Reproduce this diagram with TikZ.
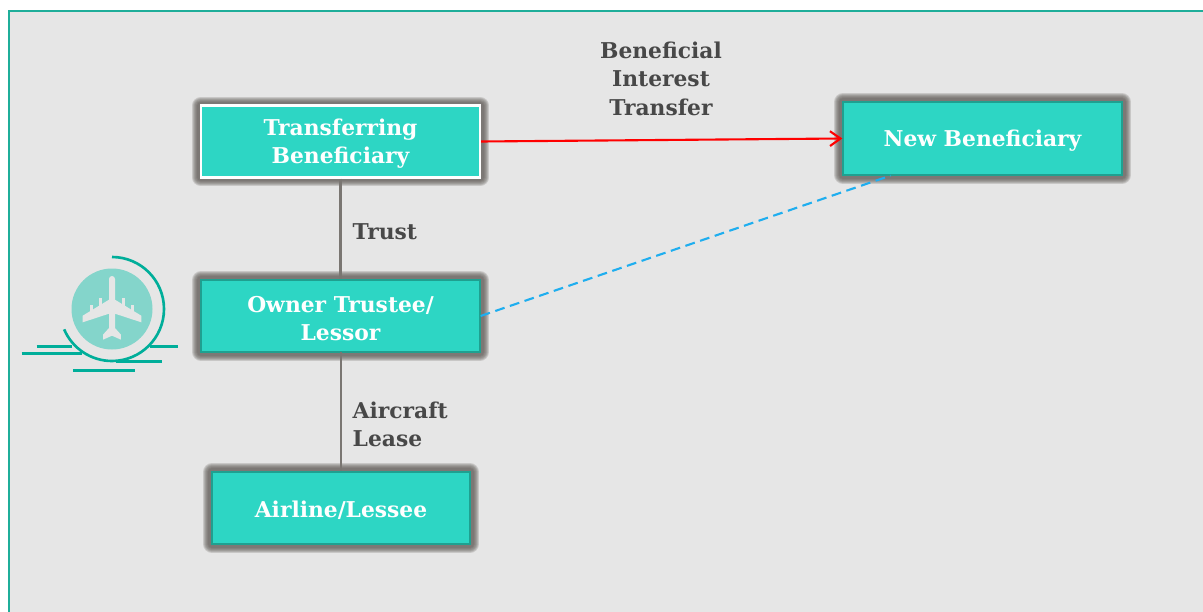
\documentclass[tikz,border=0pt]{standalone}
\usepackage{fontspec}
\usetikzlibrary{arrows.meta}
\setmainfont{DejaVu Serif}
\definecolor{panelgray}{HTML}{E6E6E6}
\definecolor{frameteal}{HTML}{1FAE9A}
\definecolor{boxteal}{HTML}{2DD6C4}
\definecolor{boxedge}{HTML}{1FA090}
\definecolor{glowgray}{HTML}{5F5A56}
\definecolor{labelgray}{HTML}{484848}
\definecolor{iconteal}{HTML}{00AE9A}
\definecolor{icondisc}{HTML}{84D5CB}
\definecolor{dashblue}{HTML}{1FAEEF}
\definecolor{linkgray}{HTML}{7A7672}
\newcommand{\toppad}{\rule{0pt}{6pt}}
\tikzset{
	glow/.style={preaction={draw=glowgray, line width=#1, line join=round, opacity=0.22}},
	party/.style={fill=boxteal, draw=boxedge, line width=0.35pt, text=white, align=center, inner sep=0pt,
		minimum width=2.79cm, minimum height=0.72cm, font=\fontsize{6.2}{8.1}\selectfont\bfseries,
		glow=5pt, glow=4.4pt, glow=3.8pt, glow=3.2pt, glow=2.6pt, glow=2pt},
	tag/.style={text=labelgray, inner sep=0pt, font=\fontsize{6.2}{8.1}\selectfont\bfseries},
	trackline/.style={draw=iconteal, line width=0.75pt}
}
\begin{document}
\begin{tikzpicture}
	\useasboundingbox (0,0) rectangle (12.03,-6.12);
	% panel
	\fill[panelgray] (0.09,-0.11) rectangle (12.03,-6.12);
	\draw[frameteal, line width=0.5pt] (0.09,-6.12) -- (0.09,-0.11) -- (12.03,-0.11);

	% parties
	\node[party, draw=white, line width=0.6pt] (transferring) at (3.405,-1.415) {\toppad Transferring\\Beneficiary};
	\node[party, minimum height=0.73cm] (newben) at (9.825,-1.385) {\toppad New Beneficiary};
	\node[party] (owner) at (3.405,-3.16) {\toppad Owner Trustee/\\Lessor};
	\node[party, minimum width=2.58cm] (airline) at (3.41,-5.08) {\toppad Airline/Lessee};

	% links
	\coordinate (leasetop) at (3.41,-3.52);
	\draw[linkgray, line width=0.6pt] (transferring) -- (owner);
	\draw[linkgray, line width=0.6pt] (leasetop) -- (airline.north);
	\draw[red, line width=0.6pt, -{Straight Barb[length=3pt,width=4.2pt]}] (transferring.east) -- (newben.west);
	\draw[dashblue, line width=0.6pt, dash pattern=on 2.8pt off 1.6pt] (owner.east) -- (newben.202);

	% labels
	\node[tag, align=center] (transfer) at (6.61,-0.785) {Beneficial\\Interest\\Transfer};
	\node[tag, anchor=west] (trust) at (3.52,-2.32) {Trust};
	\node[tag, anchor=west, align=left] (lease) at (3.52,-4.245) {Aircraft\\Lease};

	% plane icon
	\foreach \y/\xa/\xb in {-3.463/0.367/0.72, -3.463/1.5/1.78, -3.533/0.217/0.817, -3.617/1.16/1.623, -3.703/0.73/1.353}
		\draw[trackline] (\xa,\y) -- (\xb,\y);
	\fill[panelgray] (1.12,-3.09) circle (0.52);
	\fill[icondisc] (1.12,-3.09) circle (0.405);
	\draw[trackline] (1.12,-2.57) arc (90:-157:0.52);
	\begin{scope}[shift={(1.12,-3.09)}]
		\fill[panelgray] (-0.03,0.3) arc (180:0:0.03) -- (0.03,0.093) -- (0.293,-0.067) -- (0.293,-0.133)
			-- (0.03,-0.047) -- (0.03,-0.19) -- (0.09,-0.257) -- (0.09,-0.307) -- (0,-0.267)
			-- (-0.09,-0.307) -- (-0.09,-0.257) -- (-0.03,-0.19) -- (-0.03,-0.047) -- (-0.293,-0.133)
			-- (-0.293,-0.067) -- (-0.03,0.093) -- cycle;
		\foreach \s in {-1,1}{
			\fill[panelgray] (\s*0.1,0.03) rectangle (\s*0.13,0.11);
			\fill[panelgray] (\s*0.19,-0.03) rectangle (\s*0.22,0.04);
		}
	\end{scope}
\end{tikzpicture}
\end{document}
